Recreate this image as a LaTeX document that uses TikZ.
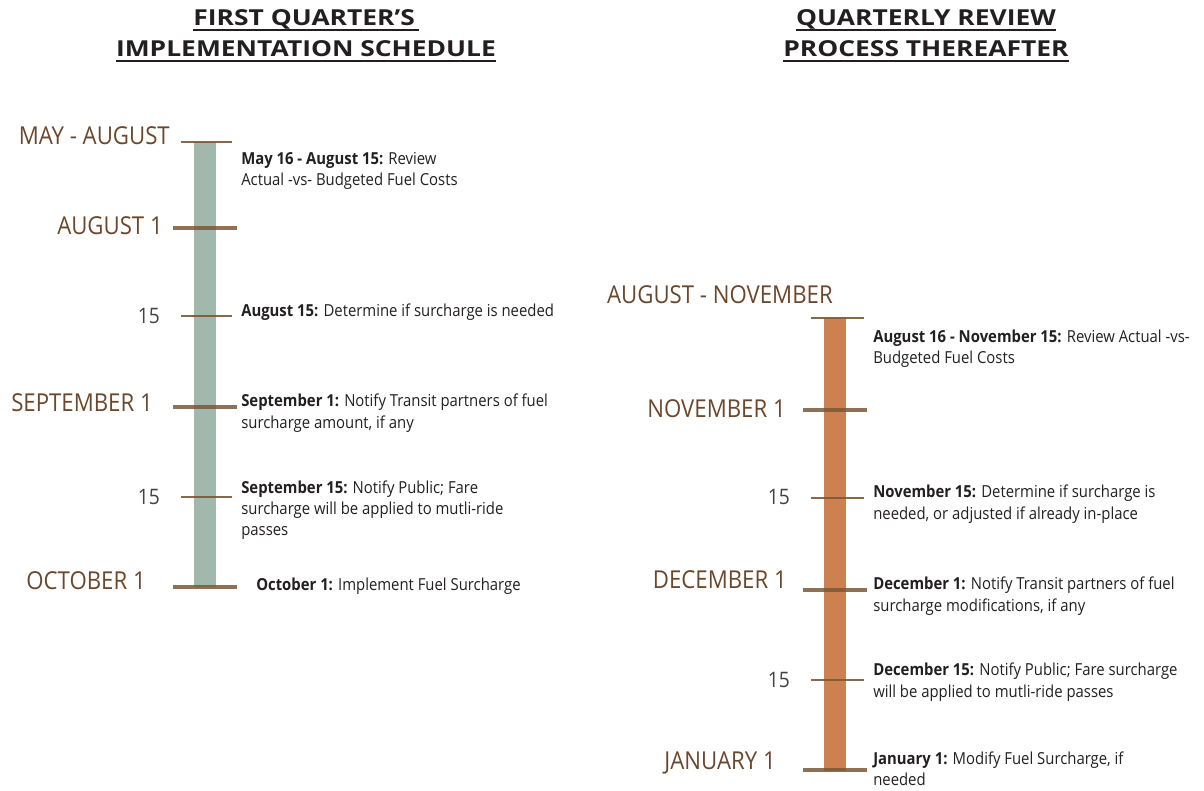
\documentclass[tikz,border=0pt]{standalone}
\usepackage{fontspec}
\setmainfont{Open Sans}[FakeStretch=0.9]
\newfontfamily\headfont{Open Sans}[FakeStretch=1.2]
\usetikzlibrary{positioning}
\definecolor{sage}{HTML}{A3B8AD}
\definecolor{rust}{HTML}{CD8150}
\definecolor{bark}{HTML}{7B5837}
\definecolor{umber}{HTML}{6B472B}
\definecolor{ink}{HTML}{231F20}

\begin{document}
\begin{tikzpicture}[x=0.75pt,y=-0.75pt,
    head/.style={anchor=base,inner sep=0pt,text=ink,font=\headfont\bfseries\fontsize{16.5}{17}\selectfont},
    month/.style={anchor=east,inner sep=0pt,text=umber,font=\fontsize{18.5}{19}\selectfont},
    day/.style={anchor=east,inner sep=0pt,text=ink!85,font=\fontsize{16}{16}\selectfont},
    note/.style={anchor=west,inner sep=0pt,align=left,text=ink,font=\fontsize{12.4}{16}\selectfont},
    major/.style={bark,line width=3.3pt,opacity=0.85},
    minor/.style={bark,line width=1.6pt,opacity=0.9}]
    \useasboundingbox (0,0) rectangle (1204,790);

    % titles
    \node (t1) at (306,25) [head] {FIRST QUARTER’S\,};
    \node (t2) at (306,56) [head] {IMPLEMENTATION SCHEDULE};
    \node (t3) at (926,25) [head] {QUARTERLY REVIEW};
    \node (t4) at (926,56) [head] {PROCESS THEREAFTER};
    \foreach \t in {t1,t2,t3,t4}
      \draw [ink,line width=1.5pt] ([yshift=-4pt]\t.base west) -- ([yshift=-4pt]\t.base east);

    % first quarter
    \coordinate (a0) at (205,142);
    \coordinate (a1) at (205,587);
    \fill [sage] ([xshift=-8.25pt]a0) rectangle ([xshift=8.25pt]a1);
    \foreach \y in {228,407,587}
      \draw [major] (173,\y) -- (237,\y);
    \foreach \y in {142,316,497}
      \draw [minor] (181,\y) -- (232,\y);

    \node (m1) at (170,136) [month] {MAY - AUGUST};
    \node (m2) at (163,226) [month] {AUGUST 1};
    \node (m3) at (160,316) [day] {15};
    \node (m4) at (153,403) [month] {SEPTEMBER 1};
    \node (m5) at (160,497) [day] {15};
    \node (m6) at (146,581) [month] {OCTOBER 1};

    \node (n1) at (241,171) [note] {{\bfseries May 16 - August 15:} Review\\Actual -vs- Budgeted Fuel Costs};
    \node (n2) at (241,312) [note] {{\bfseries August 15:} Determine if surcharge is needed};
    \node (n3) at (241,413) [note] {{\bfseries September 1:} Notify Transit partners of fuel\\surcharge amount, if any};
    \node (n4) at (241,510) [note] {{\bfseries September 15:} Notify Public; Fare\\surcharge will be applied to mutli-ride\\passes};
    \node (n5) at (256,586) [note] {{\bfseries October 1:} Implement Fuel Surcharge};

    % quarterly review
    \coordinate (b0) at (835,318);
    \coordinate (b1) at (835,771);
    \fill [rust] ([xshift=-8.5pt]b0) rectangle ([xshift=8.5pt]b1);
    \foreach \y in {410,590,770}
      \draw [major] (803,\y) -- (867,\y);
    \foreach \y in {318,498,680}
      \draw [minor] (811,\y) -- (864,\y);

    \node (r1) at (833,295) [month] {AUGUST - NOVEMBER};
    \node (r2) at (786,409) [month] {NOVEMBER 1};
    \node (r3) at (790,497) [day] {15};
    \node (r4) at (787,580) [month] {DECEMBER 1};
    \node (r5) at (790,680) [day] {15};
    \node (r6) at (776,763) [month] {JANUARY 1};

    \node (s1) at (873,349) [note] {{\bfseries August 16 - November 15:} Review Actual -vs-\\Budgeted Fuel Costs};
    \node (s2) at (873,504) [note] {{\bfseries November 15:} Determine if surcharge is\\needed, or adjusted if already in-place};
    \node (s3) at (873,596) [note] {{\bfseries December 1:} Notify Transit partners of fuel\\surcharge modifications, if any};
    \node (s4) at (873,682) [note] {{\bfseries December 15:} Notify Public; Fare surcharge\\will be applied to mutli-ride passes};
    \node (s5) at (873,769) [note] {{\bfseries January 1:} Modify Fuel Surcharge, if\\needed};
\end{tikzpicture}
\end{document}
